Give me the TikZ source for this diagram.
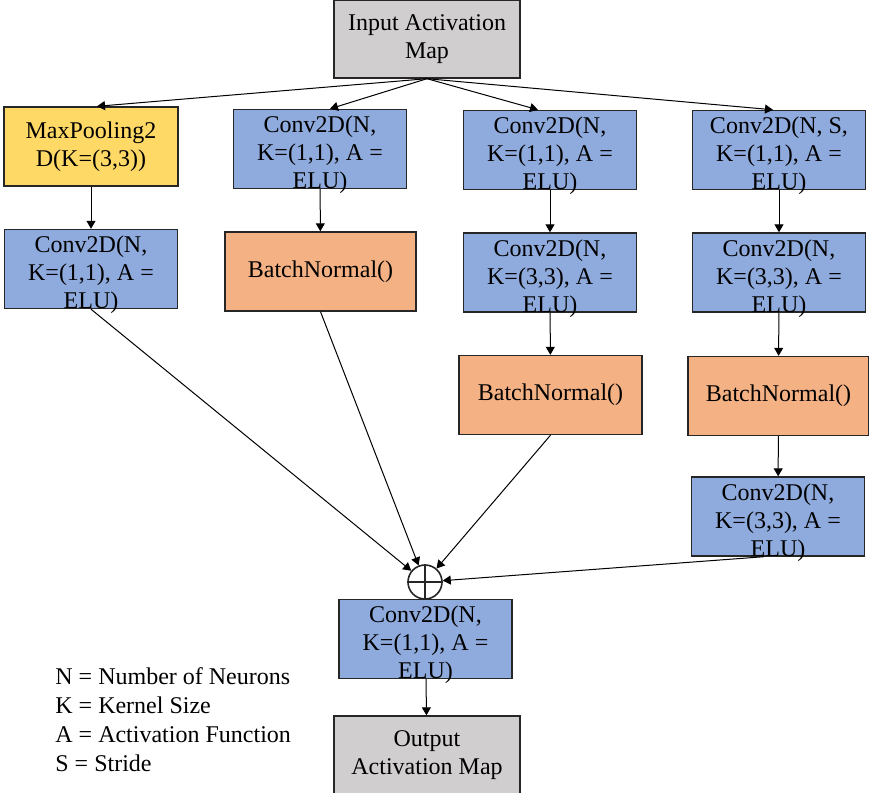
\documentclass[tikz,border=0pt]{standalone}
\usepackage{fontspec}
\setmainfont{Liberation Serif}
\usetikzlibrary{arrows.meta}
\definecolor{convblue}{HTML}{8FAADC}
\definecolor{normorange}{HTML}{F4B183}
\definecolor{poolyellow}{HTML}{FFD966}
\definecolor{mapgray}{HTML}{D0CECE}

\begin{document}
\begin{tikzpicture}[x=0.5pt,y=-0.5pt]
	\tikzset{box/.style={draw=black!85,line width=0.7pt,inner sep=0pt,align=center,font=\fontsize{12}{14}\selectfont},
		mapbox/.style={box,fill=mapgray,minimum width=93pt,minimum height=39pt},
		pool/.style={box,fill=poolyellow,minimum width=87pt,minimum height=39.5pt},
		norm/.style={box,fill=normorange,minimum height=39.5pt},
		conv/.style={box,fill=convblue,minimum width=86.5pt,minimum height=39.5pt,
			label={[anchor=north,yshift=-3.5pt,inner sep=0pt,align=center,font=\fontsize{12}{14}\selectfont]north:{#1}}},
		arr/.style={-{Triangle[width=4.5pt,length=4pt]},line width=0.5pt}}
	\useasboundingbox (0,0) rectangle (869,793);
	\node[mapbox] (inp) at (427,39) {Input Activation\\Map};
	\node[pool] (mp) at (91,146.5) {MaxPooling2\\D(K=(3,3))};
	\node[conv={Conv2D(N,\\K=(1,1), A =\\ELU)}] (c1) at (91,269) {};
	\node[conv={Conv2D(N,\\K=(1,1), A =\\ELU)}] (c2) at (320,149) {};
	\node[norm,minimum width=95.5pt] (bn2) at (320.5,271.5) {BatchNormal()};
	\node[conv={Conv2D(N,\\K=(1,1), A =\\ELU)}] (c3a) at (550,150) {};
	\node[conv={Conv2D(N,\\K=(3,3), A =\\ELU)}] (c3b) at (550,272.5) {};
	\node[norm,minimum width=91.5pt] (bn3) at (550.5,395) {BatchNormal()};
	\node[conv={Conv2D(N, S,\\K=(1,1), A =\\ELU)}] (c4a) at (779,150) {};
	\node[conv={Conv2D(N,\\K=(3,3), A =\\ELU)}] (c4b) at (779,272.5) {};
	\node[norm,minimum width=90.5pt] (bn4) at (778.5,396) {BatchNormal()};
	\node[conv={Conv2D(N,\\K=(3,3), A =\\ELU)}] (c4c) at (778,516.5) {};
	\node[draw=black!85,line width=0.8pt,circle,minimum size=17pt,inner sep=0pt] (sum) at (425,582) {};
	\node[conv={Conv2D(N,\\K=(1,1), A =\\ELU)}] (c5) at (425.5,639) {};
	\node[mapbox] (out) at (427,755) {Output\\Activation Map};
	\node[anchor=north west,align=left,inner sep=0pt,font=\fontsize{12}{14.5}\selectfont] (legend) at (55,667)
		{N = Number of Neurons\\K = Kernel Size\\A = Activation Function\\S = Stride};
	\draw[line width=0.8pt,draw=black!85] (sum.north) -- (sum.south) (sum.west) -- (sum.east);
	\draw[arr] (inp.south) -- ([xshift=3pt]mp.north);
	\draw[arr] (inp.south) -- ([xshift=5pt]c2.north);
	\draw[arr] (inp.south) -- ([xshift=-6pt]c3a.north);
	\draw[arr] (inp.south) -- ([xshift=-3pt]c4a.north);
	\draw[arr] (mp) -- (c1);
	\draw[arr] (c2) -- (bn2);
	\draw[arr] (c3a) -- (c3b);
	\draw[arr] (c3b) -- (bn3);
	\draw[arr] (c4a) -- (c4b);
	\draw[arr] (c4b) -- (bn4);
	\draw[arr] (bn4) -- (c4c);
	\draw[arr] (c1.south) -- (sum);
	\draw[arr] (bn2.south) -- (sum);
	\draw[arr] (bn3.south) -- (sum);
	\draw[arr] ([xshift=-7pt]c4c.south) -- (sum);
	\draw[arr] (c5) -- (out);
\end{tikzpicture}
\end{document}
